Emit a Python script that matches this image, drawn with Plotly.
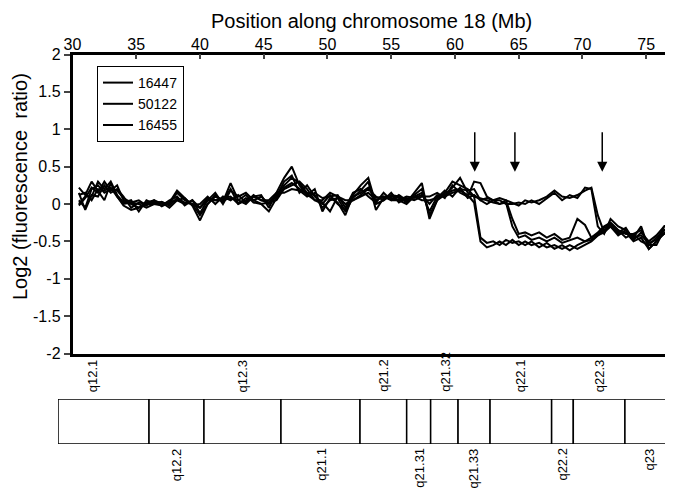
import plotly.graph_objects as go

# ---------------- data ----------------
positions = [30.5, 31.0, 31.5, 32.0, 32.5, 33.0, 33.5, 34.0, 34.6, 35.2,
             35.8, 36.4, 37.0, 37.6, 38.2, 38.8, 39.4, 40.0, 40.6, 41.2,
             41.8, 42.4, 43.0, 43.6, 44.2, 44.8, 45.4, 46.0, 46.6, 47.2,
             47.8, 48.4, 49.0, 49.6, 50.2, 50.8, 51.4, 52.0, 52.6, 53.2,
             53.8, 54.4, 55.0, 55.6, 56.2, 56.8, 57.4, 58.0, 58.6, 59.2,
             59.8, 60.4, 61.0, 61.5, 62.0, 62.5, 63.0, 63.5, 64.0, 64.5,
             65.0, 65.5, 66.0, 66.6, 67.2, 67.8, 68.4, 69.0, 69.6, 70.2,
             70.7, 71.2, 71.7, 72.2, 72.8, 73.4, 74.0, 74.6, 75.2, 75.8,
             76.4, 76.9]

s16447_a = [0.22, 0.12, 0.30, 0.18, 0.05, 0.28, 0.10, -0.02, -0.08, -0.05,
            0.02, 0.05, -0.03, 0.02, 0.18, 0.08, -0.02, -0.22, 0.0, 0.12,
            0.03, 0.28, 0.05, 0.0, 0.1, 0.12, -0.05, 0.15, 0.35, 0.5,
            0.25, 0.12, 0.2, -0.1, 0.08, 0.02, -0.15, 0.12, 0.25, 0.35,
            0.0, 0.05, 0.12, 0.1, 0.02, 0.15, 0.28, -0.2, 0.05, 0.15,
            0.3, 0.25, 0.2, 0.1, -0.45, -0.52, -0.5, -0.55, -0.48, -0.52,
            -0.5, -0.55, -0.5, -0.58, -0.52, -0.6, -0.55, -0.62, -0.55, -0.5,
            -0.45, -0.38, -0.3, -0.25, -0.35, -0.45, -0.4, -0.5, -0.55, -0.45,
            -0.35, -0.3]
s16447_b = [0.05, -0.05, 0.2, 0.25, 0.15, 0.2, 0.18, 0.08, 0.02, 0.0,
            -0.05, 0.0, 0.03, -0.02, 0.08, 0.02, 0.0, -0.05, 0.05, 0.05,
            0.08, 0.1, 0.0, 0.08, 0.05, 0.0, 0.02, 0.05, 0.2, 0.25,
            0.3, 0.2, 0.05, 0.05, 0.15, 0.1, 0.0, 0.05, 0.1, 0.15,
            0.05, 0.1, 0.08, 0.05, 0.1, 0.08, 0.12, 0.0, 0.12, 0.1,
            0.15, 0.18, 0.12, 0.02, -0.5, -0.58, -0.55, -0.5, -0.55, -0.48,
            -0.55, -0.5, -0.55, -0.52, -0.58, -0.55, -0.6, -0.55, -0.6, -0.55,
            -0.5, -0.42, -0.35, -0.3, -0.4, -0.38, -0.5, -0.45, -0.6, -0.5,
            -0.4, -0.35]
s50122_a = [0.0, 0.1, 0.1, 0.3, 0.2, 0.3, 0.12, 0.02, 0.05, -0.1,
            0.05, 0.0, -0.02, 0.05, 0.1, -0.02, 0.05, -0.12, 0.05, 0.15,
            0.0, 0.18, 0.1, 0.15, 0.05, 0.1, 0.0, 0.1, 0.3, 0.38,
            0.15, 0.25, 0.1, 0.02, -0.1, 0.1, 0.05, 0.05, 0.12, 0.2,
            0.1, 0.05, 0.15, 0.02, 0.08, 0.05, 0.1, 0.1, 0.15, 0.08,
            0.25, 0.15, 0.1, 0.3, 0.28, 0.1, 0.05, 0.08, 0.05, -0.2,
            -0.4, -0.38, -0.42, -0.38, -0.45, -0.4, -0.48, -0.45, -0.2, -0.28,
            -0.45, -0.4, -0.32, -0.28, -0.38, -0.32, -0.48, -0.38, -0.5, -0.42,
            -0.3, -0.25]
s50122_b = [0.15, -0.08, 0.12, 0.1, 0.25, 0.15, 0.2, 0.1, -0.05, 0.02,
            0.0, 0.03, 0.02, -0.05, 0.05, 0.08, -0.02, 0.0, 0.1, 0.0,
            0.1, 0.05, 0.12, 0.02, 0.12, 0.05, 0.05, 0.15, 0.15, 0.2,
            0.18, 0.1, 0.15, 0.08, 0.1, 0.12, -0.05, 0.15, 0.2, 0.1,
            0.02, 0.15, 0.05, 0.12, 0.05, 0.1, 0.05, 0.05, 0.08, 0.18,
            0.1, 0.22, 0.08, 0.12, 0.05, 0.0, 0.05, 0.0, 0.02, -0.3,
            -0.45, -0.42, -0.48, -0.45, -0.5, -0.45, -0.52, -0.48, -0.45, -0.5,
            -0.48, -0.42, -0.38, -0.3, -0.42, -0.35, -0.45, -0.42, -0.52, -0.48,
            -0.4, -0.28]
s16455_a = [0.12, 0.15, 0.05, 0.2, 0.18, 0.22, 0.1, 0.0, 0.02, 0.05,
            -0.02, 0.05, 0.0, 0.02, 0.05, 0.0, 0.05, -0.05, 0.08, 0.05,
            0.05, 0.08, 0.05, 0.12, 0.02, 0.0, -0.1, 0.08, 0.22, 0.28,
            0.2, 0.12, 0.05, 0.0, 0.12, 0.0, -0.08, 0.1, 0.15, 0.22,
            0.08, 0.1, 0.05, 0.05, 0.0, 0.1, 0.15, -0.1, 0.1, 0.12,
            0.18, 0.2, 0.18, 0.2, 0.05, 0.08, 0.05, 0.05, 0.0, 0.0,
            0.02, 0.0, 0.05, 0.0, 0.08, 0.15, 0.05, 0.12, 0.08, 0.22,
            0.2, -0.3, -0.4, -0.2, -0.3, -0.35, -0.45, -0.3, -0.6, -0.5,
            -0.3, -0.25]
s16455_b = [-0.02, 0.08, 0.22, 0.15, 0.3, 0.18, 0.25, 0.05, 0.0, -0.05,
            0.0, 0.0, 0.02, 0.0, 0.15, 0.05, 0.0, -0.15, 0.0, 0.1,
            0.05, 0.2, 0.0, 0.05, 0.1, 0.05, 0.02, 0.12, 0.25, 0.35,
            0.28, 0.15, 0.12, -0.05, 0.05, 0.08, -0.1, 0.08, 0.18, 0.3,
            -0.08, 0.08, 0.1, 0.08, 0.05, 0.12, 0.2, -0.15, 0.05, 0.12,
            0.22, 0.35, 0.15, 0.1, 0.08, 0.05, 0.02, 0.0, 0.05, 0.02,
            -0.02, 0.05, 0.02, 0.05, 0.1, 0.18, 0.1, 0.08, 0.12, 0.18,
            0.22, -0.15, -0.38, -0.25, -0.35, -0.4, -0.4, -0.35, -0.55, -0.55,
            -0.35, -0.3]

sample_names = ["16447", "50122", "16455"]
sample_series = [[s16447_a, s16447_b], [s50122_a, s50122_b], [s16455_a, s16455_b]]

x_ticks = [30, 35, 40, 45, 50, 55, 60, 65, 70, 75]
y_ticks = [2, 1.5, 1, 0.5, 0, -0.5, -1, -1.5, -2]
y_tick_text = ["2", "1.5", "1", "0.5", "0", "-0.5", "-1", "-1.5", "-2"]

x_title = "Position along chromosome 18 (Mb)"
y_title = "Log2 (fluorescence  ratio)"

arrow_pos = [61.55, 64.7, 71.55]
arrow_top = 0.98
arrow_tip = 0.43

band_names = ["q12.1", "q12.2", "q12.3", "q21.1", "q21.2", "q21.31", "q21.32",
              "q21.33", "q22.1", "q22.2", "q22.3", "q23"]
band_start = [28.86, 36.0, 40.31, 46.35, 52.55, 56.21, 58.09, 60.24, 62.75, 67.58, 69.28, 73.33]
band_end = [36.0, 40.31, 46.35, 52.55, 56.21, 58.09, 60.24, 62.75, 67.58, 69.28, 73.33, 77.5]
band_label_pos = [31.58, 38.17, 43.37, 49.5, 54.38, 57.15, 59.2, 61.45, 65.15, 68.4, 71.35, 75.25]
band_label_side = ["top", "bottom", "top", "bottom", "top", "bottom", "top",
                   "bottom", "top", "bottom", "top", "bottom"]

# ---------------- figure ----------------
# the page body adds an 8px margin, so the figure is 8px smaller and
# all page-pixel positions below are shifted by that amount
OFF = 8
FW, FH = 673 - OFF, 491 - OFF


def PX(x):
    return (x - OFF) / FW


def PY(y):
    return 1 - (y - OFF) / FH


FONT = "Liberation Sans, Arial, Helvetica, sans-serif"

fig = go.Figure()

for name, reps in zip(sample_names, sample_series):
    for i, vals in enumerate(reps):
        fig.add_trace(go.Scatter(
            x=positions, y=vals, mode="lines", name=name,
            legendgroup=name, showlegend=(i == 0),
            line=dict(color="black", width=2.0),
            xaxis="x", yaxis="y"))

# ideogram as horizontal bars
fig.add_trace(go.Bar(
    base=band_start,
    x=[e - s for s, e in zip(band_start, band_end)],
    y=[0] * len(band_start),
    orientation="h", width=1,
    marker=dict(color="white", line=dict(color="black", width=1.5)),
    showlegend=False, hoverinfo="skip",
    xaxis="x2", yaxis="y2"))

fig.update_layout(
    template="none",
    width=FW, height=FH,
    margin=dict(l=0, r=0, t=0, b=0),
    paper_bgcolor="white", plot_bgcolor="white",
    font=dict(family=FONT, color="black", size=16),
    showlegend=True,
    barmode="overlay",
    xaxis=dict(
        domain=[PX(72.5), 1.0], range=[30, 77.1], side="top", anchor="y",
        tickvals=x_ticks, ticks="inside", ticklen=5, tickwidth=2,
        tickfont=dict(size=16), ticklabelstandoff=-5,
        showline=True, linewidth=2.5, linecolor="black",
        mirror=True, showgrid=False, zeroline=False, automargin=False,
    ),
    yaxis=dict(
        domain=[PY(353.5), PY(54.5)], range=[-2, 2], anchor="x",
        tickvals=y_ticks, ticktext=y_tick_text, ticks="outside", ticklen=6, tickwidth=2,
        tickfont=dict(size=16), showline=True, linewidth=2.5, linecolor="black",
        showgrid=False, zeroline=False, automargin=False,
    ),
    xaxis2=dict(domain=[PX(58), 1.0], range=[28.86, 77.1], anchor="y2",
                visible=False, showgrid=False, zeroline=False, automargin=False),
    yaxis2=dict(domain=[PY(444), PY(399)], range=[-0.5, 0.5], anchor="x2",
                visible=False, showgrid=False, zeroline=False, automargin=False),
    legend=dict(x=PX(97), y=PY(66), xanchor="left", yanchor="top",
                bordercolor="black", borderwidth=1, bgcolor="white",
                font=dict(size=14), tracegroupgap=0),
)

annotations = [
    dict(x=PX(371), y=PY(21), xref="paper", yref="paper", text=x_title,
         showarrow=False, xanchor="center", yanchor="middle",
         font=dict(size=20)),
    dict(x=PX(20), y=PY(187), xref="paper", yref="paper", text=y_title,
         showarrow=False, xanchor="center", yanchor="middle", textangle=-90,
         font=dict(size=20)),
]
for p in arrow_pos:
    annotations.append(dict(
        x=p, y=arrow_tip, ax=p, ay=arrow_top, xref="x", yref="y",
        axref="x", ayref="y", showarrow=True, arrowhead=2, arrowsize=1.35,
        arrowwidth=1.5, arrowcolor="black", text=""))

for name, pos, side in zip(band_names, band_label_pos, band_label_side):
    if side == "top":
        annotations.append(dict(
            x=pos, y=PY(393), xref="x2", yref="paper", text=name,
            textangle=-90, showarrow=False, xanchor="center", yanchor="bottom",
            font=dict(size=13), borderpad=0))
    else:
        annotations.append(dict(
            x=pos, y=PY(447), xref="x2", yref="paper", text=name,
            textangle=-90, showarrow=False, xanchor="center", yanchor="top",
            font=dict(size=13), borderpad=0))

fig.update_layout(annotations=annotations)

fig.write_html("out.html")
